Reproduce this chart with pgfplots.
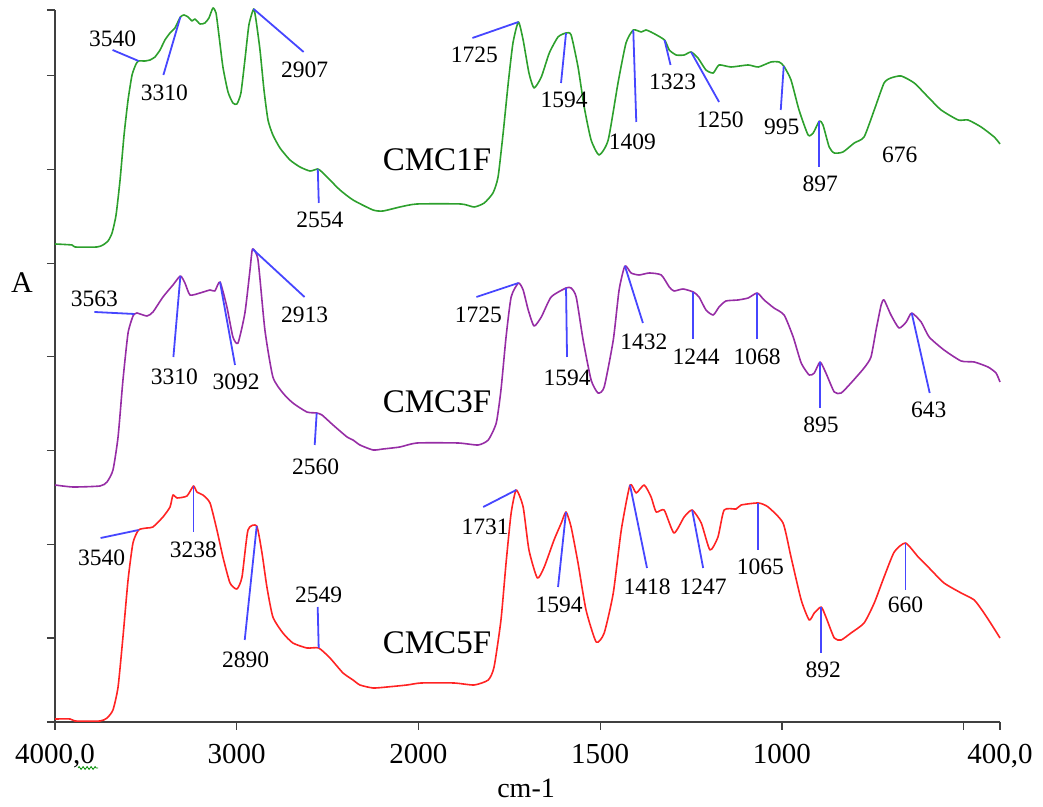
\documentclass[border=0pt]{standalone}
\usepackage{fontspec}
\setmainfont{Liberation Serif}
\usepackage{pgfplots}
\pgfplotsset{compat=1.18}
\usetikzlibrary{decorations.pathmorphing}

\definecolor{cgreen}{RGB}{45,160,45}
\definecolor{cpurple}{RGB}{150,45,165}
\definecolor{cred}{RGB}{255,35,35}
\definecolor{cblue}{RGB}{70,70,255}

\tikzset{
  pk/.style={draw=cblue, line width=0.9pt},
  pklbl/.style={font=\fontsize{11.75}{14}\selectfont, inner sep=0pt, anchor=center},
}

% Peak marker: blue leader from the band at (#1,#2), offsets in units of 0.5pt,
% the band position printed as its label.
\newcommand{\ann}[6]{%
  \draw[pk] (axis cs:#1,#2) -- ++(#3*0.5pt,#4*0.5pt);
  \path (axis cs:#1,#2) ++(#5*0.5pt,#6*0.5pt) node[pklbl]{#1};}

\begin{document}
\begin{tikzpicture}
\begin{axis}[
  scale only axis, width=472.5pt, height=356pt,
  % split wavenumber scale: 4000-2000 compressed by a factor of two
  x coord trafo/.code={\pgfmathparse{#1>=2000 ? (4000-#1)/2 : 3000-#1}},
  xmin=4000, xmax=400, ymin=0, ymax=712,
  axis lines*=left,
  axis line style={line width=0.75pt, draw=black!75},
  tick align=outside, major tick length=4pt,
  tick style={line width=0.6pt, draw=black!75},
  xtick={4000,3000,2000,1500,1000,500,400},
  xticklabels={{4000,0},3000,2000,1500,1000,{},{400,0}},
  ytick={0,84,177.7,271.4,365.1,458.8,552.5,646.2,712},
  yticklabels={},
  xticklabel style={font=\fontsize{14.5}{17}\selectfont, yshift=-3.5pt},
  clip=false,
  every axis plot/.append style={line width=0.8pt, line join=round, smooth, tension=0.35},
]
\coordinate (o) at (rel axis cs:0,0);

% CMC1F
\addplot[cgreen] table {
4000 478
3906 477
3890 475
3769 475
3736 477
3708 481
3686 489
3664 507
3642 542
3620 587
3598 622
3576 647
3554 658
3540 661
3505 661
3477 662
3450 665
3422 672
3395 682
3367 689
3340 694
3310 705
3290 707
3268 705
3246 701
3230 703
3202 698
3175 699
3153 704
3131 714
3114 709
3098 687
3076 655
3048 630
3021 619
2999 618
2977 629
2955 662
2933 697
2907 713
2894 702
2872 672
2850 632
2828 602
2801 587
2762 574
2707 562
2652 555
2597 551
2554 553
2531 550
2487 542
2432 532
2360 522
2250 512
2195 511
2102 515
2008 518
1883 518
1847 515
1819 519
1795 529
1781 545
1767 589
1753 639
1740 679
1725 700
1712 682
1696 649
1682 634
1662 645
1640 669
1616 685
1594 689
1580 687
1561 655
1544 615
1525 582
1503 567
1478 582
1451 639
1429 679
1409 692
1387 690
1374 692
1355 689
1323 682
1310 672
1291 667
1269 667
1250 670
1231 664
1209 652
1189 649
1173 657
1140 655
1093 657
1065 655
1030 660
1008 660
995 656
975 642
953 612
928 587
914 589
897 601
887 597
870 575
856 569
832 570
801 579
774 585
746 612
719 639
700 644
672 646
636 639
598 625
562 612
515 602
488 602
452 595
416 585
400 578
};

% CMC3F
\addplot[cpurple] table {
4000 237
3901 235
3752 236
3714 240
3681 252
3653 285
3626 342
3598 389
3571 406
3563 408
3549 409
3494 406
3461 410
3406 425
3351 437
3310 446
3285 439
3257 427
3202 429
3147 432
3120 431
3092 440
3054 415
3021 385
2993 379
2955 409
2927 452
2913 473
2883 462
2845 392
2801 345
2746 329
2691 319
2614 310
2560 309
2531 307
2470 297
2393 285
2360 282
2322 277
2250 272
2195 273
2102 275
2008 279
1891 279
1836 277
1808 282
1786 299
1773 332
1759 385
1745 425
1725 439
1712 432
1698 412
1682 396
1662 405
1635 425
1594 434
1580 434
1566 425
1547 382
1525 342
1506 329
1489 335
1464 382
1448 432
1432 456
1415 449
1393 447
1365 449
1332 447
1310 435
1297 431
1272 433
1244 430
1228 425
1209 412
1189 407
1173 415
1154 421
1121 422
1093 424
1068 429
1049 422
1022 414
994 407
969 385
947 359
925 347
911 349
895 360
879 349
856 330
837 329
810 339
774 354
755 365
741 392
727 417
719 422
700 407
678 394
658 400
643 409
617 400
595 385
554 372
507 361
471 360
433 355
411 349
400 340
};

% CMC5F
\addplot[cred] table {
4000 3
3917 3
3890 1
3752 1
3714 4
3681 12
3653 35
3626 85
3598 142
3571 179
3540 192
3494 194
3461 195
3406 205
3367 215
3351 227
3329 224
3274 226
3238 236
3219 230
3186 227
3147 219
3109 192
3076 165
3037 139
2999 133
2971 145
2938 192
2890 196
2861 169
2834 135
2801 105
2746 89
2691 79
2614 74
2549 74
2487 64
2415 49
2360 42
2322 37
2250 34
2173 35
2063 37
1993 39
1902 39
1847 37
1808 42
1792 55
1773 102
1759 159
1745 209
1731 232
1712 215
1696 172
1673 144
1654 155
1627 182
1607 199
1594 210
1580 195
1561 159
1539 112
1511 80
1489 89
1464 129
1442 192
1418 237
1401 229
1379 237
1360 225
1346 210
1324 212
1297 189
1269 205
1247 212
1222 199
1198 172
1176 185
1159 212
1126 213
1112 217
1065 219
1038 215
997 199
975 165
947 122
925 102
911 109
892 115
879 105
856 84
837 82
810 89
774 99
746 119
719 145
691 170
660 179
625 165
595 154
554 139
507 129
471 122
444 109
419 95
400 84
};

% band assignments, CMC1F
\ann{3540}{661}{-26}{11}{-26}{22}
\ann{3310}{705}{-17}{-58}{-16}{-76}
\ann{2907}{713}{50}{-43}{51}{-61}
\ann{2554}{553}{1}{-34}{2}{-51}
\ann{1725}{700}{-46}{-16}{-44}{-33}
\ann{1594}{689}{-5}{-50}{-2}{-67}
\ann{1409}{692}{3}{-92}{-1}{-112}
\ann{1323}{682}{6}{-25}{8}{-42}
\ann{1250}{670}{28}{-50}{29}{-68}
\ann{995}{656}{-3}{-44}{-2}{-61}
\ann{897}{601}{0}{-46}{1}{-63}
\node[pklbl] at (axis cs:676,567) {676};

% band assignments, CMC3F
\ann{3563}{408}{-40}{2}{-40}{15}
\ann{3310}{446}{-7}{-81}{-6}{-101}
\ann{3092}{440}{15}{-83}{16}{-100}
\ann{2913}{473}{52}{-48}{52}{-66}
\ann{2560}{309}{-2}{-32}{-1}{-54}
\ann{1725}{439}{-42}{-14}{-40}{-32}
\ann{1594}{434}{1}{-69}{1}{-90}
\ann{1432}{456}{18}{-57}{19}{-76}
\ann{1244}{430}{0}{-47}{3}{-65}
\ann{1068}{429}{0}{-46}{0}{-64}
\ann{895}{360}{0}{-46}{1}{-63}
\ann{643}{409}{18}{-80}{17}{-97}

% band assignments, CMC5F
\ann{3540}{192}{-38}{-8}{-37}{-28}
\ann{3238}{236}{0}{-46}{0}{-64}
\ann{2890}{196}{-12}{-114}{-11}{-134}
\ann{2549}{74}{-1}{41}{0}{53}
\ann{1731}{232}{-33}{-17}{-31}{-37}
\ann{1594}{210}{-8}{-75}{-7}{-93}
\ann{1418}{237}{17}{-83}{17}{-102}
\ann{1247}{212}{11}{-58}{11}{-77}
\ann{1065}{219}{0}{-47}{2}{-64}
\ann{892}{115}{0}{-46}{2}{-63}
\ann{660}{179}{0}{-47}{0}{-62}

% sample names
\node[font=\fontsize{16.5}{20}\selectfont] at (axis cs:1949,562) {CMC1F};
\node[font=\fontsize{16.5}{20}\selectfont] at (axis cs:1949,320) {CMC3F};
\node[font=\fontsize{16.5}{20}\selectfont] at (axis cs:1949,79) {CMC5F};

% axis titles
\node[font=\fontsize{15}{18}\selectfont] at (axis cs:4182,439) {A};
\node[font=\fontsize{14}{17}\selectfont] at (axis cs:1704,-66) {cm-1};
\draw[green!55!black, line width=0.4pt, decorate,
      decoration={zigzag, segment length=2pt, amplitude=0.7pt}]
  (axis cs:3873,-46) -- (axis cs:3763,-46);
\end{axis}
\pgfresetboundingbox
\path[use as bounding box] (o) ++(-27.5pt,-42.5pt) rectangle ++(521.5pt,403.5pt);
\end{tikzpicture}
\end{document}
